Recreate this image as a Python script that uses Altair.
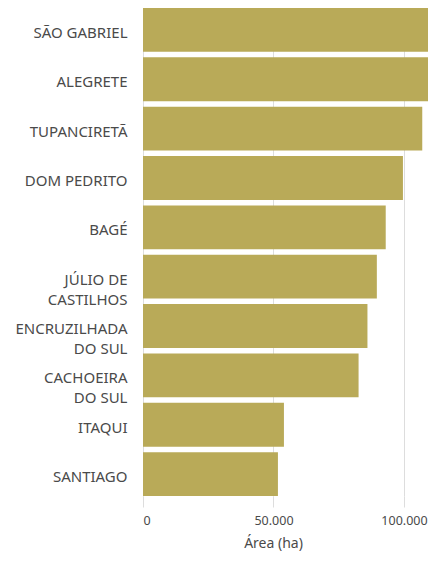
import altair as alt
import pandas as pd

municipios = [
    "SÃO GABRIEL",
    "ALEGRETE",
    "TUPANCIRETÃ",
    "DOM PEDRITO",
    "BAGÉ",
    "JÚLIO DE|CASTILHOS",
    "ENCRUZILHADA|DO SUL",
    "CACHOEIRA|DO SUL",
    "ITAQUI",
    "SANTIAGO",
]
area_ha = [118000, 114000, 107000, 99600, 93000, 89600, 86000, 82600, 54000, 51700]

df = pd.DataFrame({"municipio": municipios, "area": area_ha})

FONT = "Noto Sans"
TEXT = "#4a4a4a"
GRID = "#dddddd"

chart = (
    alt.Chart(df)
    .mark_bar(color="#B9AA58", clip=True)
    .encode(
        x=alt.X(
            "area:Q",
            title="Área (ha)",
            scale=alt.Scale(domain=[0, 109200], nice=False, zero=True),
            axis=alt.Axis(
                values=[0, 50000, 100000],
                labelExpr="replace(format(datum.value, ','), ',', '.')",
                grid=True,
                gridColor=GRID,
                tickColor=GRID,
                tickSize=11,
                domain=False,
                labelPadding=7,
                labelFontSize=12.5,
                labelColor=TEXT,
                labelFont=FONT,
                titleFont=FONT,
                titleFontSize=14,
                titleFontWeight="normal",
                titleColor=TEXT,
                titlePadding=10,
                titleX=130,
            ),
        ),
        y=alt.Y(
            "municipio:N",
            sort=None,
            title=None,
            scale=alt.Scale(paddingInner=0.111, paddingOuter=0.0),
            axis=alt.Axis(
                labelExpr="split(datum.label, '|')",
                ticks=False,
                domain=False,
                grid=False,
                labelPadding=16,
                labelFontSize=15,
                labelFont=FONT,
                labelColor=TEXT,
                labelLineHeight=20,
                labelOffset=3,
                minExtent=135,
                maxExtent=135,
                labelLimit=200,
            ),
        ),
    )
    .properties(width=285, height=488, padding={"left": 0, "top": 0, "right": 0, "bottom": 0})
    .configure_view(stroke=None)
)

chart.save("out.html", embed_options={"renderer": "svg", "actions": False})
